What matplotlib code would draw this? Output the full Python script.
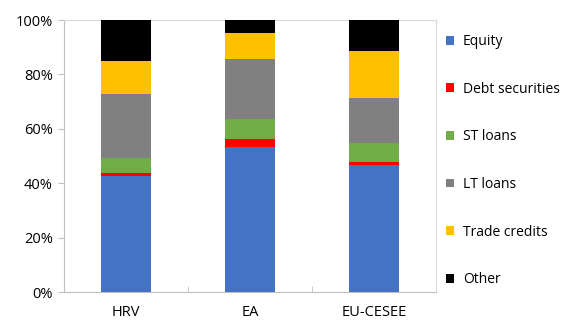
import numpy as np
import matplotlib.pyplot as plt
from matplotlib.ticker import PercentFormatter

plt.rcParams['font.family'] = ['Open Sans', 'DejaVu Sans']

categories = ['HRV', 'EA', 'EU-CESEE']
series_names = ['Equity', 'Debt securities', 'ST loans', 'LT loans', 'Trade credits', 'Other']
equity = [42.8, 53.4, 46.6]
debt_securities = [1.1, 2.9, 1.1]
st_loans = [5.5, 7.2, 6.9]
lt_loans = [23.5, 22.3, 16.6]
trade_credits = [12.1, 9.5, 17.5]
other = [15.0, 4.7, 11.3]
colors = ['#4472C4', '#FF0000', '#70AD47', '#808080', '#FFC000', '#000000']

series = [equity, debt_securities, st_loans, lt_loans, trade_credits, other]

fig = plt.figure(figsize=(5.61, 3.22), dpi=100)
ax = fig.add_axes([64 / 561, 1 - 292 / 322, 372 / 561, 272 / 322])

x = np.arange(len(categories))
bottom = np.zeros(len(categories))
for name, vals, col in zip(series_names, series, colors):
    ax.bar(x, vals, 0.4, bottom=bottom, color=col, label=name, zorder=3)
    bottom += np.array(vals)

ax.set_xlim(-0.5, len(categories) - 0.5)
ax.set_ylim(0, 100)
ax.set_yticks(np.arange(0, 101, 20))
ax.yaxis.set_major_formatter(PercentFormatter(decimals=0))
ax.set_xticks(x)
ax.set_xticklabels(categories)
ax.set_xticks(np.arange(-0.5, len(categories), 1), minor=True)
ax.tick_params(axis='x', which='major', length=0, pad=9, labelsize=10.5)
ax.tick_params(axis='x', which='minor', length=4, color='#BFBFBF', direction='in')
ax.tick_params(axis='y', length=4, color='#BFBFBF', labelsize=10.5, pad=4)
for s in ax.spines.values():
    s.set_color('#D9D9D9')
ax.spines['left'].set_color('#BFBFBF')
ax.spines['bottom'].set_color('#BFBFBF')

fig.legend(loc='upper left', bbox_to_anchor=(446 / 561, 1 - 34 / 322),
           frameon=False, fontsize=10, labelspacing=2.35,
           handlelength=0.6, handleheight=0.6, handletextpad=0.6,
           borderaxespad=0, borderpad=0)

fig.savefig('out.png', dpi=100)
